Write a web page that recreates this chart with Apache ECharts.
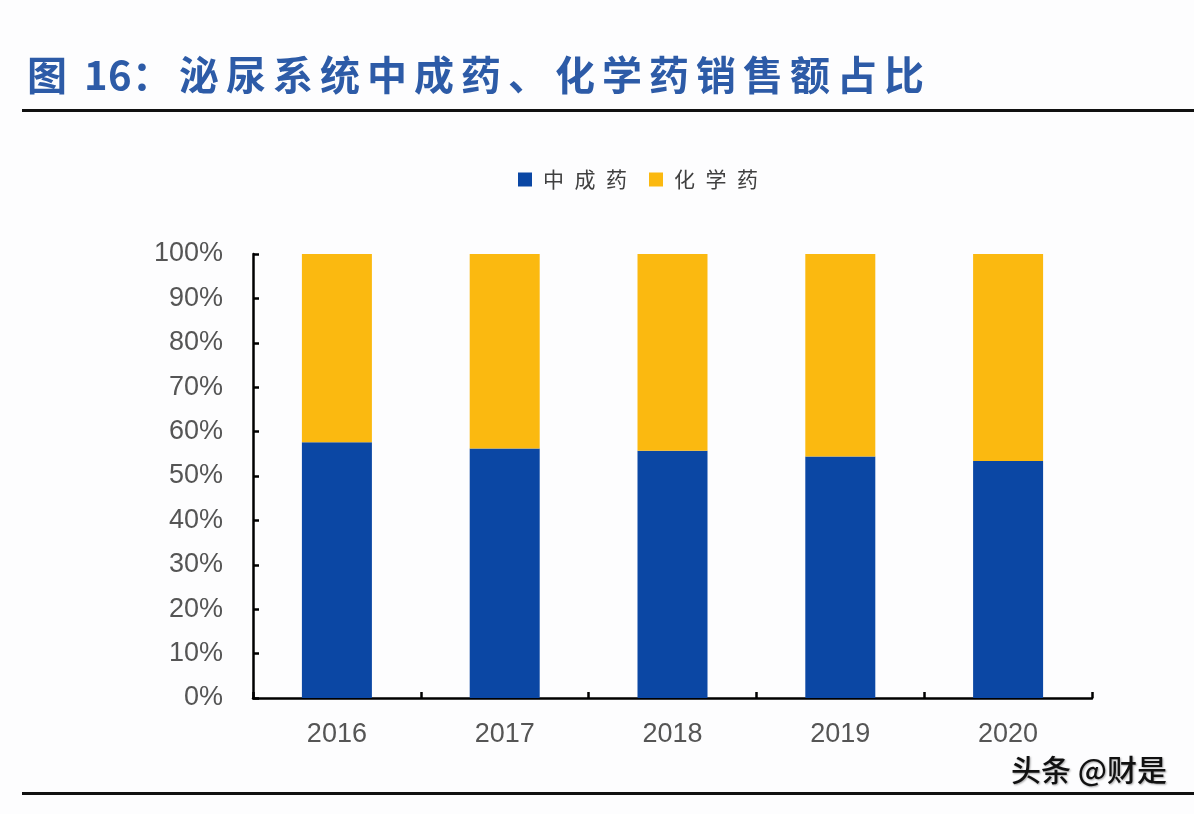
<!DOCTYPE html>
<html>
<head>
<meta charset="utf-8">
<script src="https://cdn.jsdelivr.net/npm/echarts@6/dist/echarts.min.js"></script>
<style>
html,body{margin:0;padding:0;background:#fdfdfe;}
#c{width:1194px;height:814px;}
</style>
</head>
<body>
<div id="c"></div>
<script>
const categories = ['2016', '2017', '2018', '2019', '2020'];
const seriesNames = ['中成药', '化学药'];
const tcmShare = [57.6, 56.2, 55.7, 54.4, 53.4];
const chemShare = [42.4, 43.8, 44.3, 45.6, 46.6];
const yTicks = [0, 10, 20, 30, 40, 50, 60, 70, 80, 90, 100];
const titleText = '图 16：泌尿系统中成药、化学药销售额占比';

const chart = echarts.init(document.getElementById('c'), null, {renderer: 'canvas'});

// title characters laid out with letter spacing
const titleFont = 'bold 40px "Noto Sans CJK SC", sans-serif';
const titleEls = [];
(function () {
  let x = 27;
  const chars = Array.from(titleText);
  for (let i = 0; i < chars.length; i++) {
    const ch = chars[i];
    let adv;
    if (ch === ' ') { x += 10; continue; }
    if (/[0-9]/.test(ch)) adv = 24; else adv = 47;
    titleEls.push({
      type: 'text', left: x, top: 55, silent: true,
      style: {text: ch, font: titleFont, fill: '#2d5ba7'}
    });
    x += adv;
  }
})();

const labelFont = '"Liberation Sans", Arial, sans-serif';

const option = {
  backgroundColor: '#fdfdfe',
  animation: false,
  color: ['#0b47a4', '#fbb910'],
  legend: {
    data: seriesNames,
    left: 513,
    top: 164,
    itemWidth: 14,
    itemHeight: 14,
    itemGap: 22,
    icon: 'rect',
    formatter: function (n) { return Array.from(n).join('\u2002'); },
    textStyle: {fontSize: 21, color: '#404040', fontFamily: '"Noto Sans CJK SC", sans-serif', padding: [0, 0, 0, 6]}
  },
  grid: {left: 253, right: 102, top: 254, bottom: 116, containLabel: false},
  xAxis: {
    type: 'category',
    data: categories,
    axisLine: {lineStyle: {color: '#000', width: 2.5}},
    axisTick: {show: true, inside: true, length: 6, lineStyle: {color: '#000', width: 2.5}},
    axisLabel: {fontSize: 27, color: '#555', margin: 23, fontFamily: labelFont}
  },
  yAxis: {
    type: 'value',
    min: 0, max: 100, interval: 10,
    splitLine: {show: false},
    axisLine: {show: true, lineStyle: {color: '#000', width: 2.5}},
    axisTick: {show: true, inside: true, length: 6, lineStyle: {color: '#000', width: 2.5}},
    axisLabel: {
      fontSize: 27, color: '#555', margin: 30, fontFamily: labelFont,
      formatter: function (v) { return yTicks.indexOf(v) >= 0 ? v + '%' : ''; }
    }
  },
  series: [
    {name: seriesNames[0], type: 'bar', stack: 's', data: tcmShare, barWidth: 70},
    {name: seriesNames[1], type: 'bar', stack: 's', data: chemShare, barWidth: 70}
  ],
  graphic: titleEls.concat([
    {type: 'rect', silent: true, shape: {x: 22, y: 109, width: 1172, height: 3}, style: {fill: '#111'}},
    {type: 'rect', silent: true, shape: {x: 22, y: 792, width: 1172, height: 3}, style: {fill: '#111'}},
    {type: 'text', left: 1011, top: 755, silent: true,
      style: {text: '头条 @财是', font: '500 30px "Noto Sans CJK SC", sans-serif', fill: '#111',
        textShadowColor: 'rgba(0,0,0,0.35)', textShadowBlur: 2, textShadowOffsetX: 1, textShadowOffsetY: 1}}
  ])
};
chart.setOption(option);
</script>
</body>
</html>
